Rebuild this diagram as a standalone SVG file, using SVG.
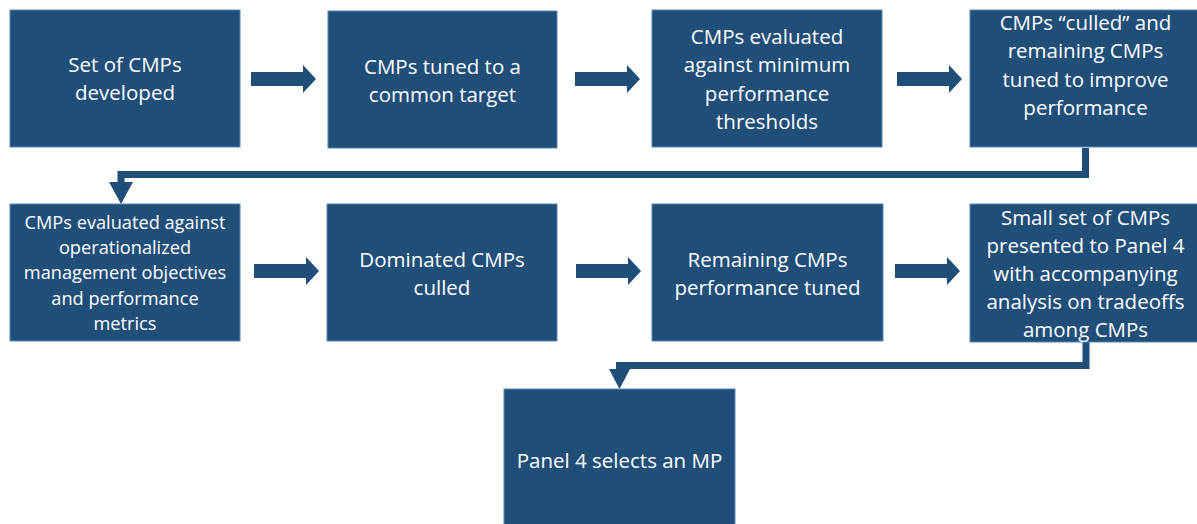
<svg xmlns="http://www.w3.org/2000/svg" width="1197" height="524" viewBox="0 0 1197 524">
  <style>
    .box { fill: #1F4E79; stroke: #5B86B4; stroke-width: 1; }
    .lbl { fill: #FFFFFF; font-family: "Open Sans", "Noto Sans", sans-serif; font-size: 20.5px; text-anchor: middle; dominant-baseline: central; }
    .sm { font-size: 18.2px; }
    .blk { fill: #1F4E79; }
    .wire { fill: none; stroke: #1F4E79; stroke-width: 7; stroke-linejoin: miter; }
  </style>
  <defs>
    <!-- block arrow pointing right, origin at left end of shaft centre line -->
    <path id="blockArrow" d="M0,-7 H52 V-14 L65,0 L52,14 V7 H0 Z"/>
  </defs>
  <rect width="1197" height="524" fill="#FFFFFF"/>

  <g id="connectors">
    <use href="#blockArrow" class="blk" x="251" y="79"/>
    <use href="#blockArrow" class="blk" x="575" y="79"/>
    <use href="#blockArrow" class="blk" x="897" y="79"/>
    <use href="#blockArrow" class="blk" x="254" y="271"/>
    <use href="#blockArrow" class="blk" x="576" y="271"/>
    <use href="#blockArrow" class="blk" x="895" y="271"/>
    <!-- elbow from row 1 back to row 2 -->
    <path class="wire" d="M1085.5,148 V174.5 H121 V184"/>
    <polygon class="blk" points="109,182 133,182 121,204"/>
    <!-- elbow from row 2 down to final box -->
    <path class="wire" d="M1086,342 V365.5 H619.5 V371"/>
    <polygon class="blk" points="609,369 630,369 619.5,389"/>
  </g>

  <g id="node-developed">
    <rect class="box" x="10" y="10" width="230" height="137"/>
    <text class="lbl" x="125"><tspan x="125" y="64">Set of CMPs</tspan><tspan x="125" y="92">developed</tspan></text>
  </g>
  <g id="node-tuned">
    <rect class="box" x="328" y="11" width="229" height="137"/>
    <text class="lbl"><tspan x="442.5" y="66">CMPs tuned to a</tspan><tspan x="442.5" y="94">common target</tspan></text>
  </g>
  <g id="node-thresholds">
    <rect class="box" x="652" y="10" width="230" height="137"/>
    <text class="lbl"><tspan x="767" y="36">CMPs evaluated</tspan><tspan x="767" y="64">against minimum</tspan><tspan x="767" y="93">performance</tspan><tspan x="767" y="121">thresholds</tspan></text>
  </g>
  <g id="node-culled">
    <rect class="box" x="970" y="10" width="231" height="137"/>
    <text class="lbl"><tspan x="1085.5" y="22">CMPs “culled” and</tspan><tspan x="1085.5" y="50">remaining CMPs</tspan><tspan x="1085.5" y="79">tuned to improve</tspan><tspan x="1085.5" y="107">performance</tspan></text>
  </g>

  <g id="node-objectives">
    <rect class="box" x="10" y="204" width="230" height="137"/>
    <text class="lbl sm"><tspan x="125" y="222">CMPs evaluated against</tspan><tspan x="125" y="247">operationalized</tspan><tspan x="125" y="272">management objectives</tspan><tspan x="125" y="298">and performance</tspan><tspan x="125" y="323">metrics</tspan></text>
  </g>
  <g id="node-dominated">
    <rect class="box" x="327" y="204" width="230" height="137"/>
    <text class="lbl"><tspan x="442" y="259">Dominated CMPs</tspan><tspan x="442" y="287">culled</tspan></text>
  </g>
  <g id="node-remaining">
    <rect class="box" x="652" y="204" width="231" height="137"/>
    <text class="lbl"><tspan x="767.5" y="259">Remaining CMPs</tspan><tspan x="767.5" y="287">performance tuned</tspan></text>
  </g>
  <g id="node-presented">
    <rect class="box" x="970" y="204" width="231" height="138"/>
    <text class="lbl"><tspan x="1085.5" y="217">Small set of CMPs</tspan><tspan x="1085.5" y="245">presented to Panel 4</tspan><tspan x="1085.5" y="273">with accompanying</tspan><tspan x="1085.5" y="301">analysis on tradeoffs</tspan><tspan x="1085.5" y="329">among CMPs</tspan></text>
  </g>

  <g id="node-selects">
    <rect class="box" x="504" y="389" width="231" height="140"/>
    <text class="lbl"><tspan x="619.5" y="460">Panel 4 selects an MP</tspan></text>
  </g>
</svg>
